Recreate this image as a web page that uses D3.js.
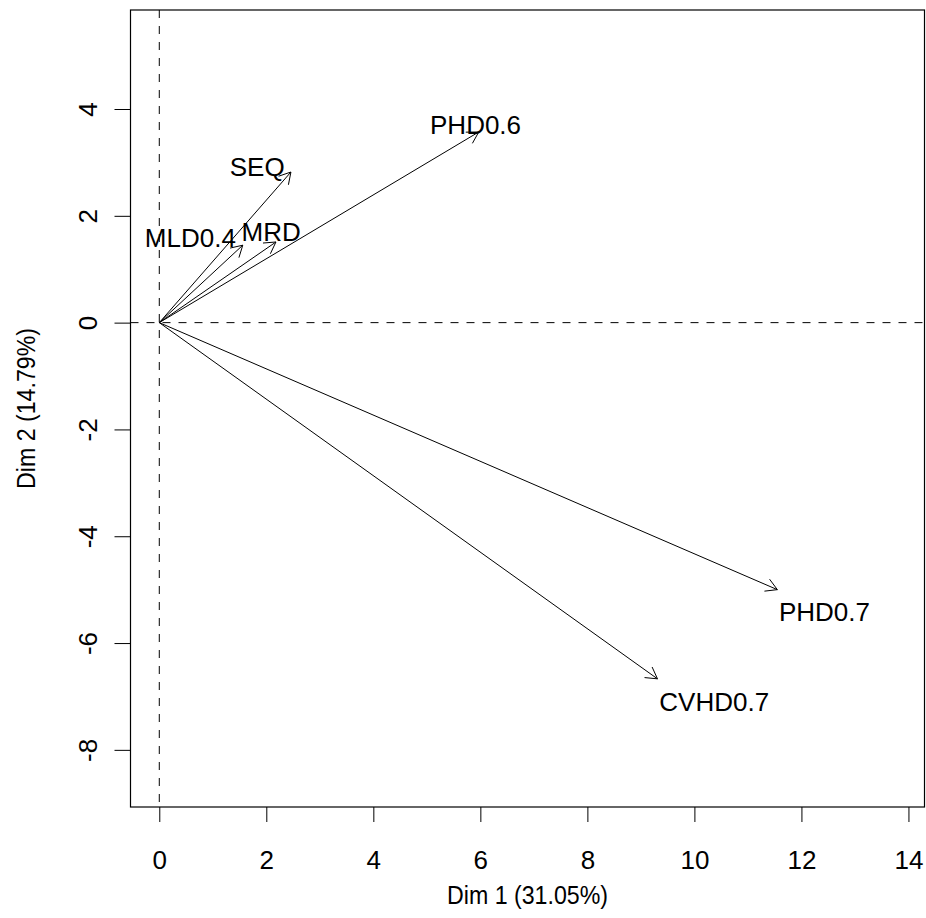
<!DOCTYPE html>
<html>
<head>
<meta charset="utf-8">
<script src="https://cdn.jsdelivr.net/npm/d3@7/dist/d3.min.js"></script>
<style>
  html, body { margin: 0; padding: 0; background: #fff; }
  svg { display: block; }
  text { font-family: "Liberation Sans", Arial, Helvetica, sans-serif; fill: #000; }
</style>
</head>
<body>
<script>
// Variables factor map: loadings on the first two dimensions
const variables = ["PHD0.6", "SEQ", "MLD0.4", "MRD", "PHD0.7", "CVHD0.7"];
const dim1 = [5.97, 2.46, 1.56, 2.18, 11.55, 9.31];
const dim2 = [3.57, 2.82, 1.45, 1.51, -5.00, -6.67];
// label anchor coordinates (same units as the axes)
const labelDim1 = [5.91, 1.83, 0.58, 2.09, 12.43, 10.37];
const labelDim2 = [3.71, 2.93, 1.60, 1.70, -5.42, -7.10];

const xTicks = [0, 2, 4, 6, 8, 10, 12, 14];
const yTicks = [-8, -6, -4, -2, 0, 2, 4];
const xTitle = "Dim 1 (31.05%)";
const yTitle = "Dim 2 (14.79%)";

const W = 926, H = 918;
const box = { left: 130.5, right: 924.5, top: 10, bottom: 807 };
const fontSize = 26;
const titleLength = 161;   // axis titles are set in a slightly condensed width

const svg = d3.select("body").append("svg")
  .attr("width", W).attr("height", H);

const x = d3.scaleLinear().domain([-0.538, 14.30]).range([box.left, box.right]);
const y = d3.scaleLinear().domain([-9.07, 5.854]).range([box.bottom, box.top]);

// reference lines through the origin
svg.append("line")
  .attr("x1", box.left).attr("x2", box.right)
  .attr("y1", y(0)).attr("y2", y(0))
  .attr("stroke", "#000").attr("stroke-width", 1)
  .attr("stroke-dasharray", "8,8");
svg.append("line")
  .attr("x1", x(0)).attr("x2", x(0))
  .attr("y1", box.top).attr("y2", box.bottom)
  .attr("stroke", "#000").attr("stroke-width", 1)
  .attr("stroke-dasharray", "8,8");

// arrows
const data = variables.map((v, i) => ({
  name: v, x: dim1[i], y: dim2[i], lx: labelDim1[i], ly: labelDim2[i]
}));

const headLen = 13, headAng = Math.PI / 6;
const g = svg.append("g").attr("stroke", "#000").attr("stroke-width", 1).attr("fill", "none");
data.forEach(d => {
  const x0 = x(0), y0 = y(0), x1 = x(d.x), y1 = y(d.y);
  g.append("line").attr("x1", x0).attr("y1", y0).attr("x2", x1).attr("y2", y1);
  const a = Math.atan2(y1 - y0, x1 - x0);
  const p1 = [x1 - headLen * Math.cos(a - headAng), y1 - headLen * Math.sin(a - headAng)];
  const p2 = [x1 - headLen * Math.cos(a + headAng), y1 - headLen * Math.sin(a + headAng)];
  g.append("path").attr("d", `M${p1[0]},${p1[1]}L${x1},${y1}L${p2[0]},${p2[1]}`);
});

svg.append("g").selectAll("text").data(data).join("text")
  .attr("x", d => x(d.lx))
  .attr("y", d => y(d.ly))
  .attr("dy", "0.36em")
  .attr("text-anchor", "middle")
  .attr("font-size", fontSize)
  .text(d => d.name);

// axes (plain hyphen minus for negative ticks)
const fmt = d => String(d);
const xAxis = svg.append("g")
  .attr("transform", `translate(0,${box.bottom})`)
  .call(d3.axisBottom(x).tickValues(xTicks).tickSize(15).tickPadding(0).tickFormat(fmt));
xAxis.select(".domain").remove();
xAxis.selectAll(".tick line").attr("stroke", "#000");
xAxis.selectAll(".tick text")
  .attr("font-size", fontSize)
  .attr("font-family", "Liberation Sans, Arial, sans-serif")
  .attr("y", 52.5).attr("dy", "0.36em");

const yAxis = svg.append("g")
  .attr("transform", `translate(${box.left},0)`)
  .call(d3.axisLeft(y).tickValues(yTicks).tickSize(16).tickPadding(0).tickFormat(fmt));
yAxis.select(".domain").remove();
yAxis.selectAll(".tick line").attr("stroke", "#000");
yAxis.selectAll(".tick text")
  .attr("font-size", fontSize)
  .attr("font-family", "Liberation Sans, Arial, sans-serif")
  .attr("text-anchor", "middle")
  .attr("x", 0).attr("y", 0)
  .attr("transform", "translate(-42.5,0) rotate(-90)")
  .attr("dy", "0.36em");

// plot frame
svg.append("rect")
  .attr("x", box.left).attr("y", box.top)
  .attr("width", box.right - box.left).attr("height", box.bottom - box.top)
  .attr("fill", "none").attr("stroke", "#000").attr("stroke-width", 1.2);

// axis titles
svg.append("text")
  .attr("x", (box.left + box.right) / 2 - titleLength / 2).attr("y", 895)
  .attr("dy", "0.36em")
  .attr("textLength", titleLength).attr("lengthAdjust", "spacingAndGlyphs")
  .attr("font-size", fontSize).text(xTitle);
svg.append("text")
  .attr("transform", `translate(26,${(box.top + box.bottom) / 2}) rotate(-90)`)
  .attr("x", -titleLength / 2)
  .attr("dy", "0.36em")
  .attr("textLength", titleLength).attr("lengthAdjust", "spacingAndGlyphs")
  .attr("font-size", fontSize).text(yTitle);
</script>
</body>
</html>
